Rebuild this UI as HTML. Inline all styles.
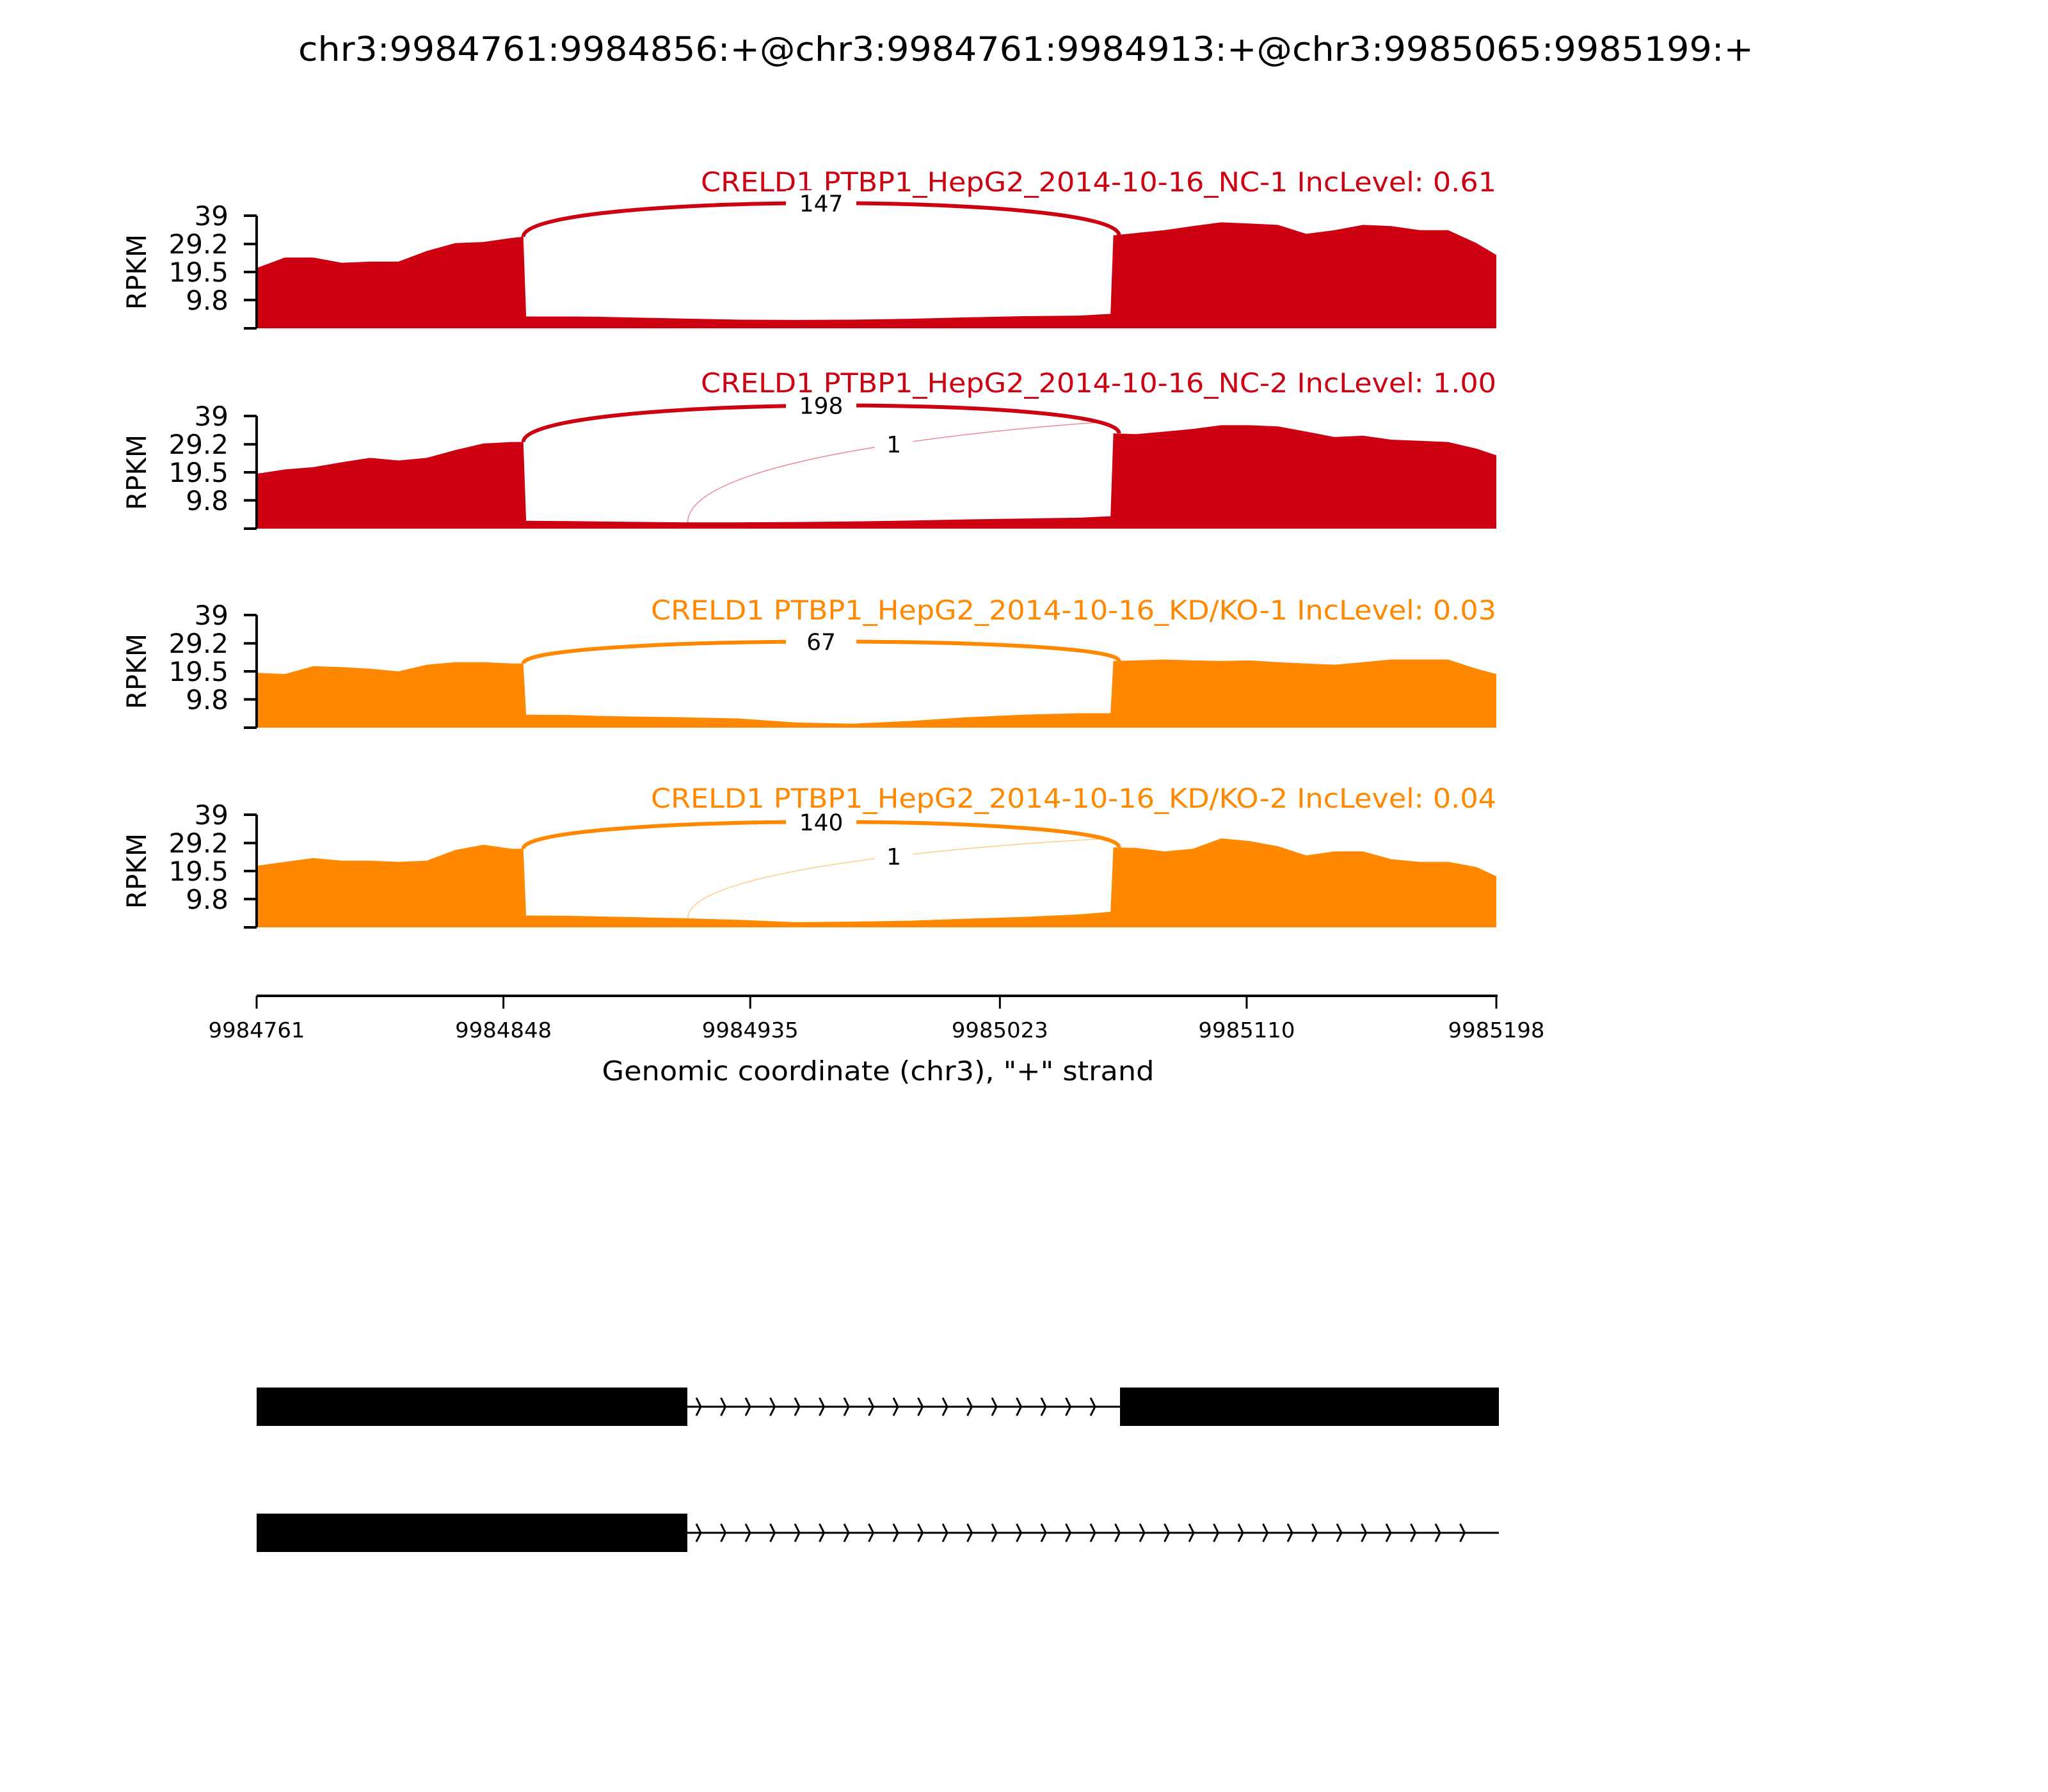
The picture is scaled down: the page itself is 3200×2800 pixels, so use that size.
<!DOCTYPE html>
<html><head><meta charset="utf-8"><style>
html,body{margin:0;padding:0;background:#fff;}
svg{display:block;font-family:"DejaVu Sans","Liberation Sans",sans-serif;}
</style></head><body>
<svg id="chart" width="3200" height="2800" viewBox="0 0 3200 2800" xmlns="http://www.w3.org/2000/svg">
<rect width="3200" height="2800" fill="#fff"/>
<text x="1603" y="95" font-size="53" text-anchor="middle" textLength="2274" lengthAdjust="spacingAndGlyphs">chr3:9984761:9984856:+@chr3:9984761:9984913:+@chr3:9985065:9985199:+</text>
<g id="panels"></g>
<g id="xaxis"></g>
<g id="genes"></g>
</svg>
<script>
const offsets = [0,10,20,30,40,50,60,70,80,90,94,95,110,120,130,150,170,190,210,230,250,270,290,301,302,310,320,330,340,350,360,370,380,390,400,410,420,430,437];
const cov1 = [20.9,24.5,24.5,22.7,23.1,23.1,26.8,29.5,29.9,31.3,31.7,4.1,4.1,4.0,3.8,3.4,3.0,2.9,3.0,3.3,3.8,4.2,4.4,5.0,32.2,33,34,35.4,36.7,36.3,35.8,32.7,34,35.8,35.4,34,34,29.5,25.4];
const cov2 = [19,20.5,21.3,23,24.5,23.6,24.5,27.2,29.5,30,30,2.7,2.6,2.5,2.4,2.2,2.2,2.3,2.5,2.8,3.2,3.5,3.8,4.3,33,32.7,33.6,34.5,35.8,35.8,35.4,33.6,31.7,32.2,30.8,30.4,30,27.7,25.4];
const cov3 = [19,18.6,21.3,21,20.4,19.5,21.8,22.7,22.7,22.2,22.2,4.5,4.4,4.1,3.9,3.6,3.2,1.8,1.4,2.3,3.6,4.5,5,5,23.1,23.3,23.6,23.3,23.1,23.3,22.7,22.2,21.8,22.7,23.6,23.6,23.6,20.4,18.6];
const cov4 = [21.3,22.7,24,23.1,23.1,22.7,23.1,26.8,28.6,27.2,27.2,4.1,4.0,3.8,3.6,3.2,2.6,1.8,2.0,2.3,3.0,3.6,4.5,5.4,27.7,27.5,26.3,27.2,30.8,29.9,28.1,24.9,26.3,26.3,23.6,22.7,22.7,20.9,17.7];
const coverages = [cov1,cov2,cov3,cov4];
const sampleTitles = ["CRELD1 PTBP1_HepG2_2014-10-16_NC-1 IncLevel: 0.61","CRELD1 PTBP1_HepG2_2014-10-16_NC-2 IncLevel: 1.00","CRELD1 PTBP1_HepG2_2014-10-16_KD/KO-1 IncLevel: 0.03","CRELD1 PTBP1_HepG2_2014-10-16_KD/KO-2 IncLevel: 0.04"];
const junctionCounts = [147,198,67,140];
const minorCounts = [0,1,0,1];
const yTickLabels = ["9.8","19.5","29.2","39"];
const yTickValues = [9.8,19.5,29.2,39];
const xTickLabels = ["9984761","9984848","9984935","9985023","9985110","9985198"];
const xTickValues = [9984761,9984848,9984935,9985023,9985110,9985198];
const exonsT1 = [[9984761,9984913],[9985065,9985199]];
const exonsT2 = [[9984761,9984913]];

const NS="http://www.w3.org/2000/svg";
function mk(tag,attrs,parent){const e=document.createElementNS(NS,tag);for(const k in attrs)e.setAttribute(k,attrs[k]);parent.appendChild(e);return e;}
const START=9984761, END=9985198, X0=401, X1=2338;
const xs = g => X0 + (g-START)*(X1-X0)/(END-START);
const YMAX=39, PH=176;
const tops=[337,650,961,1273];
const titleY=[299,613,968,1262];
const peakY=[317,632,1002,1284];
const minorEndY=[0,660,0,1311];
const colors=["#cc0011","#cc0011","#ff8800","#ff8800"];
const titleW=[1243,1243,1321,1321];
const panels=document.getElementById('panels');

coverages.forEach((cov,i)=>{
  const top=tops[i], bot=top+PH;
  const ys=v=>bot - v/YMAX*PH;
  const g=mk('g',{},panels);
  
  
  let d='M'+xs(START+offsets[0])+','+bot;
  offsets.forEach((o,j)=>{d+=' L'+xs(START+o).toFixed(1)+','+ys(cov[j]).toFixed(1);});
  d+=' L'+xs(START+offsets[offsets.length-1]).toFixed(1)+','+bot+' Z';
  const area=mk('path',{d:d,fill:colors[i]},g);
  
  
  const ax=mk('line',{x1:X0,y1:top,x2:X0,y2:bot,stroke:'#000','stroke-width':4},g);
  
  
  [0].concat(yTickValues).forEach((v,k)=>{
    const t=mk('line',{x1:X0-20,y1:ys(v),x2:X0,y2:ys(v),stroke:'#000','stroke-width':4},g);
    
    
    if(k>0){
      const tl=mk('text',{x:357,y:ys(v)+15,'font-size':42,'text-anchor':'end'},g);
      tl.textContent=yTickLabels[k-1];
      
      
    }
  });
  const yl=mk('text',{x:228,y:(top+bot)/2,'font-size':42,'text-anchor':'middle',transform:'rotate(-90 228 '+((top+bot)/2)+')'},g);
  yl.textContent='RPKM';
  
  
  const st=mk('text',{x:X1,y:titleY[i],'font-size':42,'text-anchor':'end',fill:colors[i],textLength:titleW[i],lengthAdjust:'spacingAndGlyphs'},g);
  st.textContent=sampleTitles[i];
  
  
  const jx0=xs(9984855), jx1=xs(9985065);
  const jy0=ys(cov[10]), jy1=ys(cov[24]);
  const base=Math.min(jy0,jy1);
  const cy=base-(base-peakY[i])/0.75;
  const arc=mk('path',{d:`M${jx0},${jy0} C${jx0},${cy} ${jx1},${cy} ${jx1},${jy1}`,fill:'none',stroke:colors[i],'stroke-width':6},g);
  
  
  const mx=(jx0+jx1)/2, my=0.125*jy0+0.75*cy+0.125*jy1;
  const lr=mk('rect',{x:mx-55,y:my-20,width:110,height:40,fill:'#fff'},g);
  
  
  const lt=mk('text',{x:mx,y:my+13,'font-size':36,'text-anchor':'middle'},g);
  lt.textContent=String(junctionCounts[i]);
  
  
  if(minorCounts[i]>0){
    const sx0=xs(9984913), sy0=ys(cov[offsets.indexOf(150)]);
    const sx1=jx1-30, sy1=minorEndY[i];
    const p1x=sx0, p1y=sy0-(sy0-sy1)*0.75, p2x=sx1, p2y=sy1;
    const ma=mk('path',{d:`M${sx0},${sy0} C${p1x},${p1y} ${p2x},${p2y} ${sx1},${sy1}`,fill:'none',stroke:colors[i],'stroke-opacity':0.45,'stroke-width':1.5},g);
    
    
    const bx=0.125*sx0+0.375*p1x+0.375*p2x+0.125*sx1, by=0.125*sy0+0.375*p1y+0.375*p2y+0.125*sy1;
    const mr=mk('rect',{x:bx-30,y:by-22,width:60,height:44,fill:'#fff'},g);
    
    
    const mt=mk('text',{x:bx,y:by+13,'font-size':36,'text-anchor':'middle'},g);
    mt.textContent=String(minorCounts[i]);
    
    
  }
});

const xa=document.getElementById('xaxis');
const AXY=1556;
const xl=mk('line',{x1:X0,y1:AXY,x2:X1+2,y2:AXY,stroke:'#000','stroke-width':4},xa);


xTickValues.forEach((v,k)=>{
  const t=mk('line',{x1:xs(v),y1:AXY,x2:xs(v),y2:AXY+20,stroke:'#000','stroke-width':3},xa);
  
  
  const tl=mk('text',{x:xs(v),y:1621,'font-size':33,'text-anchor':'middle',textLength:151,lengthAdjust:'spacingAndGlyphs'},xa);
  tl.textContent=xTickLabels[k];
  
  
});
const xt=mk('text',{x:1372,y:1688,'font-size':42,'text-anchor':'middle',textLength:863,lengthAdjust:'spacingAndGlyphs'},xa);
xt.textContent='Genomic coordinate (chr3), "+" strand';



const gs=document.getElementById('genes');
const gx=g=>g>=9985065?1750+(g-9985065)*(2342-1750)/(9985199-9985065):401+(g-START)*(1074-401)/(9984913-START);
function track(exons,cy,name){
  const g=mk('g',{},gs);
  
  
  const ln=mk('line',{x1:gx(exons[0][0]),y1:cy,x2:2342,y2:cy,stroke:'#000','stroke-width':3},g);
  
  
  const introEnd = exons.length>1?gx(exons[1][0]):2310;
  for(let x=1088;x+7<introEnd-4;x+=38.5){
    const c=mk('path',{d:`M${x},${cy-14} L${x+7},${cy} L${x},${cy+14}`,fill:'none',stroke:'#000','stroke-width':3},g);
    
    
  }
  exons.forEach(e=>{
    const r=mk('rect',{x:gx(e[0]),y:cy-30,width:gx(e[1])-gx(e[0]),height:60,fill:'#000'},g);
    
    
  });
}
track(exonsT1,2198,'transcript-1');
track(exonsT2,2395,'transcript-2');
</script>
</body></html>
